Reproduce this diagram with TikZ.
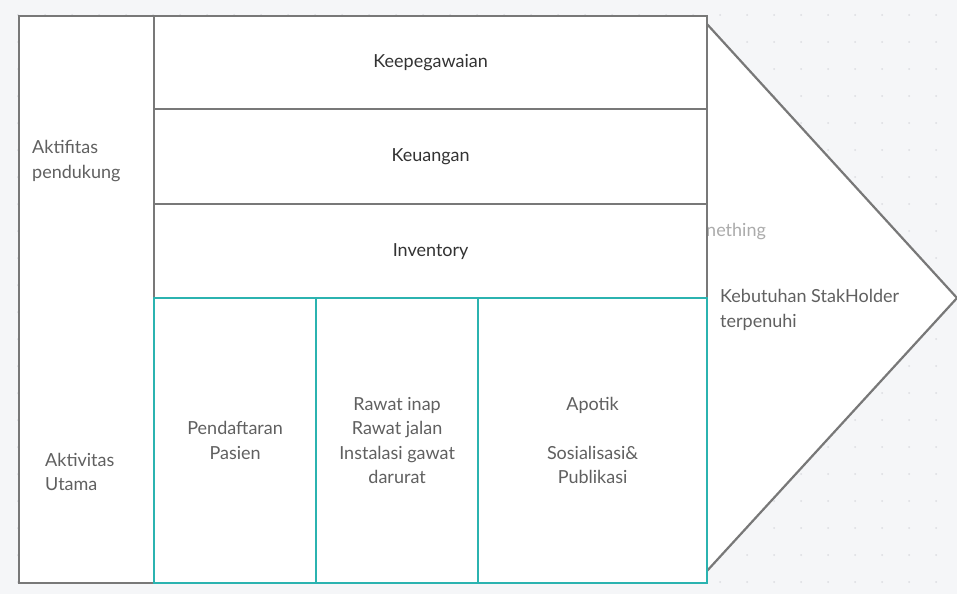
\documentclass[tikz,border=0pt]{standalone}
\usepackage{fontspec}
\setmainfont{Lato}
\definecolor{canvas}{HTML}{F5F6F8}
\definecolor{griddot}{HTML}{DCDDE1}
\definecolor{frame}{HTML}{787878}
\definecolor{teal}{HTML}{2BB3B0}
\definecolor{txt}{HTML}{606060}
\definecolor{txtdark}{HTML}{333333}
\definecolor{ghost}{HTML}{ABABAB}
\tikzset{
  box/.style={draw=frame, line width=2.2pt, fill=white, inner sep=0pt, anchor=north west},
  mainbox/.style={draw=teal, line width=2.2pt, fill=white, inner sep=0pt, anchor=north west,
    align=center, text=txt, font=\fontsize{18}{24.5}\selectfont},
  rowbox/.style={box, text=txtdark, font=\fontsize{18}{24.5}\selectfont},
  label/.style={inner sep=0pt, text=txt, align=left, font=\fontsize{18}{24.5}\selectfont}
}
\begin{document}
\begin{tikzpicture}[x=1pt, y=-1pt]
\useasboundingbox (0,0) rectangle (957,594);
% canvas with dotted grid
\fill[canvas] (0,0) rectangle (957,594);
\foreach \i in {0,...,35} {
  \foreach \j in {0,...,21} {
    \fill[griddot] (18+27*\i, 15+27*\j) circle (1pt);
  }
}
% value arrow
\draw[frame, line width=2.2pt, fill=white, line join=miter] (706,23) -- (957,298) -- (706,572);
\node[ghost, anchor=base west, inner sep=0pt, font=\fontsize{18}{24.5}\selectfont] (ghosttext) at (706,236) {nething};
% support activities column
\node[box, minimum width=135pt, minimum height=567pt] (side) at (18,15) {};
% support rows
\node[rowbox, minimum width=553pt, minimum height=93pt] (staff) at (153,15) {Keepegawaian};
\node[rowbox, minimum width=553pt, minimum height=95pt] (finance) at (153,108) {Keuangan};
\node[rowbox, minimum width=553pt, minimum height=94pt] (stock) at (153,203) {Inventory};
% primary activities
\node[mainbox, minimum width=162pt, minimum height=285pt] (reg) at (153,297) {Pendaftaran\\Pasien};
\node[mainbox, minimum width=162pt, minimum height=285pt] (care) at (315,297) {Rawat inap\\Rawat jalan\\Instalasi gawat\\darurat};
\node[mainbox, minimum width=229pt, minimum height=285pt] (pharm) at (477,297) {Apotik\\[24.5pt]Sosialisasi\&\\Publikasi};
% row labels
\node[label, anchor=west] (supportlbl) at (32,161) {Aktifitas\\pendukung};
\node[label, anchor=west] (primarylbl) at (45,472) {Aktivitas\\Utama};
% outcome
\node[label, anchor=west] (outcome) at (720,310) {Kebutuhan StakHolder\\terpenuhi};
\end{tikzpicture}
\end{document}
